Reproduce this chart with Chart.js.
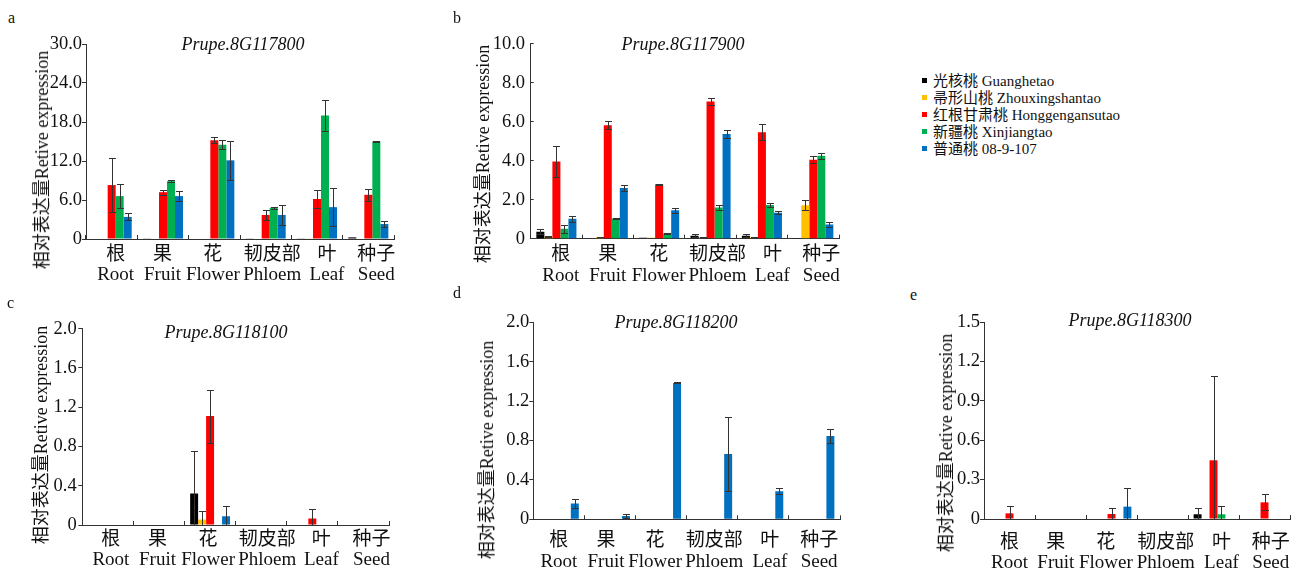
<!DOCTYPE html>
<html>
<head>
<meta charset="utf-8">
<script src="https://cdn.jsdelivr.net/npm/chart.js@4.4.1/dist/chart.umd.min.js"></script>
<style>
  body { margin: 0; background: #fff; width: 1298px; height: 573px; position: relative; overflow: hidden;
         font-family: "Liberation Serif", "Noto Sans CJK SC", serif; color: #111; }
  .box { position: absolute; }
  .letter { position: absolute; font-size: 16px; line-height: 16px; }
  .gene { position: absolute; font-size: 18px; font-style: italic; white-space: nowrap; transform: translate(-50%, -50%); }
  .ytitle { position: absolute; font-size: 18px; white-space: nowrap; transform: translate(-50%, -50%) rotate(-90deg); }
  #legend { position: absolute; left: 922px; top: 73px; font-size: 15px; line-height: 17px; }
  #legend div { white-space: nowrap; }
  #legend span { display: inline-block; width: 5px; height: 5px; margin-right: 6px; vertical-align: 3px; }
</style>
</head>
<body>
<div id="legend"></div>
<script>
// categories and series
const tissues = [['根', 'Root'], ['果', 'Fruit'], ['花', 'Flower'], ['韧皮部', 'Phloem'], ['叶', 'Leaf'], ['种子', 'Seed']];
const cultivars = ['光核桃 Guanghetao', '帚形山桃 Zhouxingshantao', '红根甘肃桃 Honggengansutao', '新疆桃 Xinjiangtao', '普通桃 08-9-107'];
const genes = ['Prupe.8G117800', 'Prupe.8G117900', 'Prupe.8G118100', 'Prupe.8G118200', 'Prupe.8G118300'];
const yTitle = '相对表达量Retive expression';

// rows: cultivars, columns: tissues
const meanA = [
  [0, 0.1, 0, 0.1, 0.1, 0.25],
  [0, 0, 0, 0, 0.1, 0],
  [8.3, 7.2, 15.2, 3.7, 6.15, 6.8],
  [6.6, 8.9, 14.5, 4.8, 19.0, 15.0],
  [3.4, 6.6, 12.1, 3.7, 4.9, 2.3]
];
const sdA = [
  [0, 0, 0, 0, 0, 0],
  [0, 0, 0, 0, 0, 0],
  [4.1, 0.4, 0.5, 0.7, 1.45, 0.95],
  [1.9, 0.2, 0.7, 0.15, 2.4, 0.05],
  [0.55, 0.8, 3.0, 1.6, 2.9, 0.4]
];
const ticksA = [0, 6, 12, 18, 24, 30];

const meanB = [
  [0.36, 0, 0.05, 0.15, 0.15, 0.03],
  [0.1, 0.08, 0.05, 0.07, 0.08, 1.72],
  [3.96, 5.82, 2.8, 7.04, 5.46, 4.05],
  [0.51, 1.04, 0.27, 1.6, 1.73, 4.25],
  [1.02, 2.6, 1.46, 5.37, 1.33, 0.73]
];
const sdB = [
  [0.12, 0, 0.01, 0.07, 0.07, 0],
  [0.02, 0.01, 0.01, 0.01, 0.02, 0.25],
  [0.78, 0.2, 0.03, 0.16, 0.42, 0.17],
  [0.2, 0.02, 0.02, 0.13, 0.12, 0.15],
  [0.15, 0.17, 0.12, 0.21, 0.08, 0.15]
];
const ticksB = [0, 2, 4, 6, 8, 10];

const meanC = [
  [0, 0, 0.32, 0, 0, 0],
  [0, 0, 0.055, 0, 0, 0],
  [0, 0, 1.11, 0, 0.065, 0],
  [0, 0, 0, 0, 0, 0],
  [0, 0, 0.09, 0, 0, 0]
];
const sdC = [
  [0, 0, 0.43, 0, 0, 0],
  [0, 0, 0.085, 0, 0, 0],
  [0, 0, 0.27, 0, 0.095, 0],
  [0, 0, 0, 0, 0, 0],
  [0, 0, 0.1, 0, 0, 0]
];
const ticksC = [0, 0.4, 0.8, 1.2, 1.6, 2.0];

const meanD = [
  [0, 0, 0, 0, 0, 0],
  [0, 0, 0, 0, 0, 0],
  [0, 0, 0, 0, 0, 0],
  [0, 0, 0, 0, 0, 0],
  [0.16, 0.034, 1.384, 0.663, 0.284, 0.846]
];
const sdD = [
  [0, 0, 0, 0, 0, 0],
  [0, 0, 0, 0, 0, 0],
  [0, 0, 0, 0, 0, 0],
  [0, 0, 0, 0, 0, 0],
  [0.05, 0.016, 0.005, 0.38, 0.03, 0.075]
];
const ticksD = [0, 0.4, 0.8, 1.2, 1.6, 2.0];

const meanE = [
  [0, 0, 0, 0, 0.036, 0],
  [0, 0, 0, 0, 0, 0],
  [0.043, 0, 0.038, 0, 0.447, 0.127],
  [0, 0, 0, 0, 0.036, 0],
  [0, 0, 0.094, 0, 0, 0]
];
const sdE = [
  [0, 0, 0, 0, 0.05, 0],
  [0, 0, 0, 0, 0, 0],
  [0.057, 0, 0.046, 0, 0.64, 0.06],
  [0, 0, 0, 0, 0.063, 0],
  [0, 0, 0.14, 0, 0, 0]
];
const ticksE = [0, 0.3, 0.6, 0.9, 1.2, 1.5];

const colors = ['#000000', '#FFC000', '#FF0000', '#00B050', '#0070C0'];
const FONT = '"Liberation Serif", "Noto Sans CJK SC", serif';

// legend
document.getElementById('legend').innerHTML = cultivars
  .map((c, i) => '<div><span style="background:' + colors[i] + '"></span>' + c + '</div>').join('');

// error bars drawn with the y scale of each chart
const errorBars = {
  id: 'errorBars',
  afterDatasetsDraw(chart, args, opts) {
    const ctx = chart.ctx, y = chart.scales.y;
    ctx.save();
    ctx.strokeStyle = '#333';
    ctx.lineWidth = 1;
    chart.data.datasets.forEach((ds, i) => {
      chart.getDatasetMeta(i).data.forEach((bar, j) => {
        const sd = opts.sd[i][j];
        if (!sd) return;
        const v = ds.data[j];
        const hi = Math.round(y.getPixelForValue(v + sd)) + 0.5;
        const lo = Math.round(y.getPixelForValue(Math.max(v - sd, 0))) + 0.5;
        const x = Math.round(bar.x) + 0.5;
        ctx.beginPath();
        ctx.moveTo(x, hi); ctx.lineTo(x, lo);
        ctx.moveTo(x - 3.5, hi); ctx.lineTo(x + 3.5, hi);
        if (v - sd > 0) { ctx.moveTo(x - 3.5, lo); ctx.lineTo(x + 3.5, lo); }
        ctx.stroke();
      });
    });
    ctx.restore();
  }
};

// two-line tissue labels at the category positions of the x scale,
// nudged a little per category as in the figure
const tissueLabels = {
  id: 'tissueLabels',
  afterDraw(chart, args, opts) {
    const ctx = chart.ctx, x = chart.scales.x;
    ctx.save();
    ctx.fillStyle = '#111';
    ctx.textAlign = 'center';
    ctx.textBaseline = 'middle';
    ctx.font = '19px ' + FONT;
    chart.data.labels.forEach((lines, i) => {
      const cx = x.getPixelForTick(i) + opts.shift[i];
      lines.forEach((t, k) => ctx.fillText(t, cx, x.top + opts.dy + k * 20.5));
    });
    ctx.restore();
  }
};

const panels = [
  { letter: 'a', lx: 8, ly: 10, mean: meanA, sd: sdA, ticks: ticksA, gene: genes[0],
    box: [0, 26, 400, 264], area: [86, 44, 394, 239], yTick: 4, yPad: 0,
    shift: [4, -0.5, -1.5, 6.5, 10, 8], dy: 16,
    gx: 243, gy: 44, tx: 40, ty: 160 },
  { letter: 'b', lx: 453, ly: 10, mean: meanB, sd: sdB, ticks: ticksB, gene: genes[1],
    box: [440, 24, 405, 266], area: [530.7, 42.7, 839, 238.7], yTick: -3, yPad: 8.7,
    shift: [4.4, 0, -0.5, 7, 10.5, 8], dy: 16.5,
    gx: 683, gy: 44, tx: 481, ty: 154 },
  { letter: 'c', lx: 7, ly: 295, mean: meanC, sd: sdC, ticks: ticksC, gene: genes[2],
    box: [0, 310, 395, 263], area: [82.3, 328.7, 389, 525], yTick: 4, yPad: 1.6,
    shift: [3, -1.5, -2, 6, 9, 8], dy: 15,
    gx: 226, gy: 331.5, tx: 38.5, ty: 434.5 },
  { letter: 'd', lx: 453, ly: 285, mean: meanD, sd: sdD, ticks: ticksD, gene: genes[3],
    box: [440, 304, 406, 269], area: [533.3, 322.3, 840, 519.3], yTick: 4, yPad: 0,
    shift: [0, -4, -6, 2, 6.5, 4.7], dy: 22,
    gx: 676, gy: 321.5, tx: 485, ty: 450 },
  { letter: 'e', lx: 910, ly: 287, mean: meanE, sd: sdE, ticks: ticksE, gene: genes[4],
    box: [880, 304, 418, 269], area: [984, 322, 1290, 519], yTick: 4, yPad: 0,
    shift: [0, -4.7, -5.7, 3.3, 8, 6.3], dy: 24,
    gx: 1130, gy: 319.5, tx: 943.5, ty: 442.5 }
];

function addText(cls, text, x, y) {
  const d = document.createElement('div');
  d.className = cls;
  d.textContent = text;
  d.style.left = x + 'px';
  d.style.top = y + 'px';
  document.body.appendChild(d);
}

panels.forEach(p => {
  const [bl, bt, bw, bh] = p.box;
  const [al, at, ar, ab] = p.area;
  const wrap = document.createElement('div');
  wrap.className = 'box';
  wrap.style.cssText = 'left:' + bl + 'px;top:' + bt + 'px;width:' + bw + 'px;height:' + bh + 'px';
  const cv = document.createElement('canvas');
  wrap.appendChild(cv);
  document.body.appendChild(wrap);

  addText('letter', p.letter, p.lx, p.ly);
  addText('gene', p.gene, p.gx, p.gy);
  addText('ytitle', yTitle, p.tx, p.ty);

  new Chart(cv, {
    type: 'bar',
    data: {
      labels: tissues,
      datasets: cultivars.map((c, i) => ({
        label: c,
        data: p.mean[i],
        backgroundColor: colors[i],
        borderWidth: 0,
        categoryPercentage: 0.78,
        barPercentage: 1
      }))
    },
    options: {
      responsive: true,
      maintainAspectRatio: false,
      animation: false,
      layout: { padding: { left: 0, top: at - bt, right: bl + bw - ar, bottom: 0 } },
      plugins: {
        legend: { display: false },
        tooltip: { enabled: false },
        errorBars: { sd: p.sd },
        tissueLabels: { shift: p.shift, dy: p.dy }
      },
      scales: {
        x: {
          offset: true,
          grid: { offset: true, drawOnChartArea: false, tickLength: -4, color: '#333', lineWidth: 1 },
          border: { color: '#333', width: 1 },
          ticks: { display: false },
          afterFit: s => { s.height = bt + bh - ab; }
        },
        y: {
          min: p.ticks[0],
          max: p.ticks[p.ticks.length - 1],
          afterBuildTicks: s => { s.ticks = p.ticks.map(v => ({ value: v })); },
          grid: { drawOnChartArea: false, tickLength: p.yTick, color: '#333', lineWidth: 1 },
          border: { color: '#333', width: 1 },
          ticks: { color: '#111', padding: p.yPad,
                   font: { family: FONT, size: 18.5 },
                   callback: v => v === 0 ? '0' : v.toFixed(1) },
          afterFit: s => { s.width = al - bl; }
        }
      }
    },
    plugins: [errorBars, tissueLabels]
  });
});
</script>
</body>
</html>
